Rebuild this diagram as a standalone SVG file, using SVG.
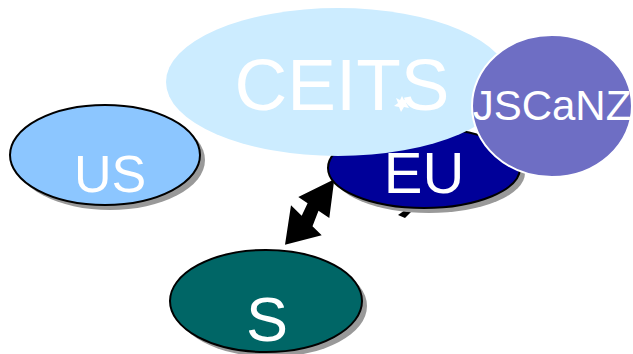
<svg xmlns="http://www.w3.org/2000/svg" width="633" height="354" viewBox="0 0 633 354">
<style>
.shadow{fill:#999999;stroke:none}
.node{stroke:#000000;stroke-width:2}
.lbl{font-family:"Liberation Sans",Arial,sans-serif;fill:#ffffff;text-anchor:middle}
</style>
<rect width="633" height="354" fill="#ffffff"/>
<g id="connectors">
<polygon points="285,244.7 291,205.3 301.7,215.8 307.6,203.3 298.3,197 334.3,179.3 329.3,218 318.5,210.7 312.5,226.3 321.7,235.3" fill="#000000"/>
<polygon points="398,215 408,208 412,211 405,218" fill="#000000"/>
</g>
<g id="US">
<ellipse class="shadow" cx="110" cy="160" rx="95" ry="50"/>
<ellipse class="node" cx="105" cy="155" rx="95" ry="50" fill="#8CC6FF"/>
<text class="lbl" x="110" y="192" font-size="52">US</text>
</g>
<g id="S">
<ellipse class="shadow" cx="271" cy="306" rx="96" ry="51"/>
<ellipse class="node" cx="266" cy="301" rx="96" ry="51" fill="#006666"/>
<text class="lbl" x="267" y="341" font-size="63">S</text>
</g>
<g id="EU">
<ellipse class="shadow" cx="429" cy="173" rx="96" ry="40"/>
<ellipse class="node" cx="424" cy="168" rx="96" ry="40" fill="#000099"/>
<text class="lbl" x="424" y="193" font-size="58">EU</text>
</g>
<g id="CEITS">
<ellipse cx="338" cy="82" rx="172" ry="74" fill="#CCECFF"/>
<text class="lbl" x="342" y="110" font-size="73">CEITS</text>
<polygon points="402,96 404,100 409,99 406,103 409,108 404,107 401,112 399,107 394,106 398,103 396,98 400,100" fill="#ffffff"/>
</g>
<g id="JSCaNZ">
<ellipse cx="552" cy="106" rx="80" ry="71" fill="#6E6EC4" stroke="#ffffff" stroke-width="2"/>
<text class="lbl" x="552" y="120" font-size="42">JSCaNZ</text>
</g>
</svg>
